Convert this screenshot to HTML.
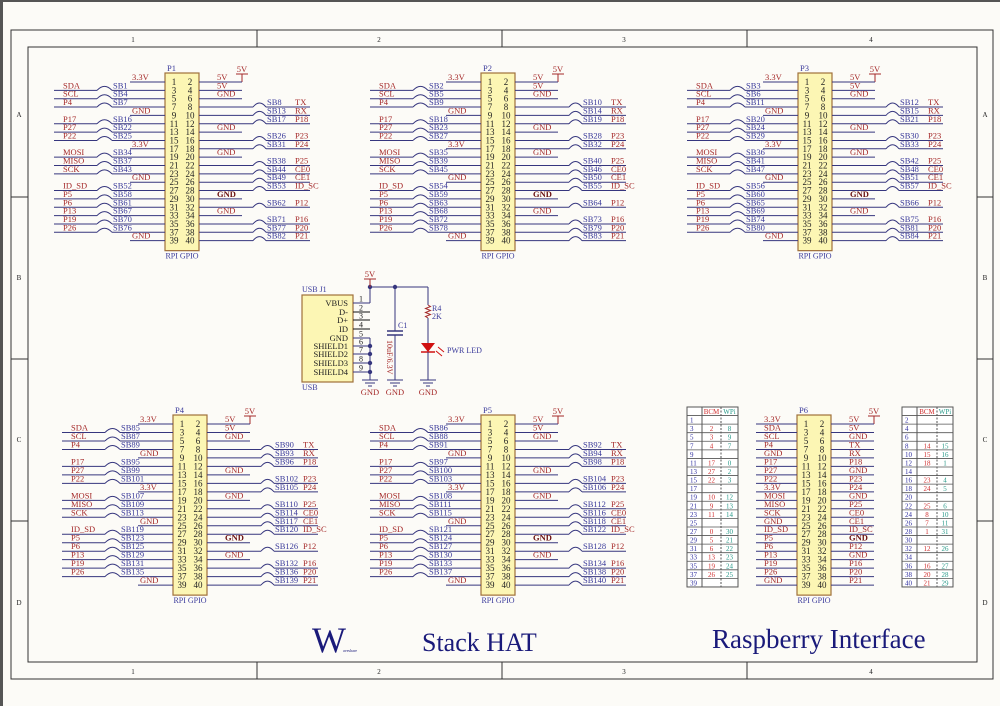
<!DOCTYPE html>
<html><head><meta charset="utf-8"><style>
html,body{margin:0;padding:0;background:#fcfbf7;}
svg{display:block;font-family:"Liberation Serif",serif;}
</style></head><body>
<svg id="s" width="1000" height="706" viewBox="0 0 1000 706" xmlns="http://www.w3.org/2000/svg"></svg>
<script>
var s='';
var RED='#a52a2a',BLUE='#3b3b9b',LN='#36367e',BK='#222';
function t(x,y,str,c,sz,anc,extra){s+='<text x="'+x+'" y="'+y+'" fill="'+c+'" font-size="'+(sz||8.5)+'"'+(anc?' text-anchor="'+anc+'"':'')+(extra||'')+'>'+str+'</text>';}
function l(x1,y1,x2,y2,c,w,extra){s+='<line x1="'+x1+'" y1="'+y1+'" x2="'+x2+'" y2="'+y2+'" stroke="'+(c||LN)+'" stroke-width="'+(w||1)+'"'+(extra||'')+'/>';}
function arc(x1,x2,y){s+='<path d="M'+x1+' '+y+' Q'+((x1+x2)/2)+' '+(y-8)+' '+x2+' '+y+'" fill="none" stroke="'+LN+'" stroke-width="1"/>';}
// frame
s+='<rect x="0" y="0" width="1000" height="2" fill="#555"/><rect x="0" y="0" width="3" height="706" fill="#555"/>';
s+='<rect x="11" y="30" width="982" height="649" fill="none" stroke="#333" stroke-width="1"/>';
s+='<rect x="28" y="47" width="949" height="615" fill="none" stroke="#333" stroke-width="1"/>';
[257,502,747].forEach(function(x){l(x,30,x,47,'#333');l(x,662,x,679,'#333');});
[197,359,521].forEach(function(y){l(11,y,28,y,'#333');l(977,y,993,y,'#333');});
[[133,'1'],[379,'2'],[624,'3'],[871,'4']].forEach(function(a){t(a[0],42,a[1],BK,7,'middle');t(a[0],674,a[1],BK,7,'middle');});
[[117,'A'],[280,'B'],[442,'C'],[605,'D']].forEach(function(a){t(19,a[0],a[1],BK,7,'middle');t(985,a[0],a[1],BK,7,'middle');});
var LN_=['3.3V','SDA','SCL','P4','GND','P17','P27','P22','3.3V','MOSI','MISO','SCK','GND','ID_SD','P5','P6','P13','P19','P26','GND'];
var RN_=['5V','5V','GND','TX','RX','P18','GND','P23','P24','GND','P25','CE0','CE1','ID_SC','GND','P12','GND','P16','P20','P21'];
function pw(n){return n=='3.3V'||n=='GND'||n=='5V';}
function hdr(bx,py,dy,name,lsb,rsb){
  s+='<rect x="'+bx+'" y="'+(py-9)+'" width="34" height="'+(dy*19+19)+'" fill="#fcf6b4" stroke="#a0703a" stroke-width="1.2"/>';
  t(bx+2,py-11,name,BLUE,8.5);
  t(bx+17,py+dy*19+18,'RPI GPIO',BLUE,8,'middle');
  // 5V symbol
  l(bx+77,py,bx+77,py-8,RED);l(bx+71,py-8,bx+83,py-8,RED);t(bx+77,py-10,'5V',RED,8.5,'middle');
  var li=0,ri=0;
  for(var i=0;i<20;i++){
    var y=py+dy*i;
    t(bx+9,y+3,String(2*i+1),BK,9,'middle');t(bx+25,y+3,String(2*i+2),BK,9,'middle');
    var n=LN_[i];
    if(!lsb){l(bx-41,y,bx,y);t(bx-33,y-2,n,RED);}
    else if(pw(n)){l(bx-35,y,bx,y);t(bx-33,y-2,n,RED);}
    else{l(bx-111,y,bx-68,y);t(bx-102,y-2,n,RED);arc(bx-68,bx-53,y);l(bx-53,y,bx,y);t(bx-52,y-2,'SB'+lsb[li++],BLUE);}
    var m=RN_[i];
    var bold=(i==14)?' font-weight="bold"':'';
    if(!rsb||pw(m)){l(bx+34,y,bx+77,y);t(bx+(rsb?52:52),y-2,m,(i==14?'#6b1010':RED),8.5,null,bold);}
    else{l(bx+34,y,bx+88,y);arc(bx+88,bx+101,y);l(bx+101,y,bx+145,y);t(bx+102,y-2,'SB'+rsb[ri++],BLUE);t(bx+130,y-2,m,RED);}
  }
}
hdr(165,82,8.35,'P1',[1,4,7,16,22,25,34,37,43,52,58,61,67,70,76],[8,13,17,26,31,38,44,49,53,62,71,77,82]);
hdr(481,82,8.35,'P2',[2,5,9,18,23,27,35,39,45,54,59,63,68,72,78],[10,14,19,28,32,40,46,50,55,64,73,79,83]);
hdr(798,82,8.35,'P3',[3,6,11,20,24,29,36,41,47,56,60,65,69,74,80],[12,15,21,30,33,42,48,51,57,66,75,81,84]);
hdr(173,424,8.48,'P4',[85,87,89,95,99,101,107,109,113,119,123,125,129,131,135],[90,93,96,102,105,110,114,117,120,126,132,136,139]);
hdr(481,424,8.48,'P5',[86,88,91,97,100,103,108,111,115,121,124,127,130,133,137],[92,94,98,104,106,112,116,118,122,128,134,138,140]);
hdr(797,424,8.48,'P6',null,null);
// tables
function tbl(x0,xa,xb,x1,rows){
  var y0=407,rh=8.57;
  s+='<rect x="'+x0+'" y="'+y0+'" width="'+(x1-x0)+'" height="'+(rh*21)+'" fill="#fff" stroke="#555" stroke-width="1"/>';
  l(xa,y0,xa,y0+rh*21,'#555');l(xb,y0,xb,y0+rh*21,'#555',1,' stroke-dasharray="2,1.5"');
  for(var k=1;k<21;k++)l(x0,y0+rh*k,x1,y0+rh*k,'#555',0.8);
  t((xa+xb)/2,y0+7,'BCM','#d03030',7,'middle');t((xb+x1)/2,y0+7,'WPi','#2a9a8a',7,'middle');
  rows.forEach(function(r,k){var y=y0+rh*(k+1)+7;t(x0+3,y,r[0],'#3030a0',7);if(r[1])t((xa+xb)/2,y,r[1],'#d03030',7,'middle');if(r[2])t((xb+x1)/2,y,r[2],'#2a9a8a',7,'middle');});
}
tbl(687,702,721,738,[['1'],['3','2','8'],['5','3','9'],['7','4','7'],['9'],['11','17','0'],['13','27','2'],['15','22','3'],['17'],['19','10','12'],['21','9','13'],['23','11','14'],['25'],['27','0','30'],['29','5','21'],['31','6','22'],['33','13','23'],['35','19','24'],['37','26','25'],['39']]);
tbl(902,917,937,953,[['2'],['4'],['6'],['8','14','15'],['10','15','16'],['12','18','1'],['14'],['16','23','4'],['18','24','5'],['20'],['22','25','6'],['24','8','10'],['26','7','11'],['28','1','31'],['30'],['32','12','26'],['34'],['36','16','27'],['38','20','28'],['40','21','29']]);
// USB section
s+='<rect x="302" y="295" width="51" height="87" fill="#fcf6b4" stroke="#a0703a" stroke-width="1.2"/>';
t(302,292,'USB J1',BLUE,8);t(302,390,'USB',BLUE,8);
var ul=['VBUS','D-','D+','ID','GND','SHIELD1','SHIELD2','SHIELD3','SHIELD4'];
var ly=[303,312,320,329,338,346,354,363,372];
ul.forEach(function(n,k){t(348,ly[k]+3,n,BK,8.5,'end');l(353,ly[k],370,ly[k],k>=1&&k<=3?'#111':LN);t(361,ly[k]-1.5,String(k+1),BK,8,'middle');});
l(370,303,370,287);l(370,287,428,287);l(370,338,370,380);
function dot(x,y){s+='<circle cx="'+x+'" cy="'+y+'" r="2.2" fill="'+LN+'"/>';}
dot(370,287);dot(395,287);[346,354,363,372].forEach(function(y){dot(370,y);});
// 5V at usb
l(370,287,370,279,RED);l(364,279,376,279,RED);t(370,277,'5V',RED,8.5,'middle');
function gnd(x,y){l(x,y,x+0,y);l(x-8,y,x+8,y,LN);l(x-5,y+3,x+5,y+3,LN);l(x-2,y+6,x+2,y+6,LN);t(x,y+15,'GND',RED,8.5,'middle');}
gnd(370,380);gnd(395,380);gnd(428,380);
// C1
l(395,287,395,331);l(387,331,403,331,LN,1.5);l(387,335,403,335,LN,1.5);l(395,335,395,380);
t(398,328,'C1',BLUE,8);
s+='<text x="0" y="0" fill="'+RED+'" font-size="8" transform="translate(387,340) rotate(90)">10uF/6.3V</text>';
// R4
l(428,287,428,305);
s+='<path d="M428 305 l2.5 1.5 l-5 2 l5 2 l-5 2 l5 2 l-5 2 l2.5 1.5" fill="none" stroke="'+RED+'" stroke-width="1"/>';
l(428,318,428,343);t(432,311,'R4',BLUE,8);t(432,319,'2K',BLUE,8);
s+='<path d="M421 343 L435 343 L428 352 Z" fill="#d01010"/>';l(421,352,435,352,'#d01010',1.5);
l(438,347,444,352,'#d01010');l(436,351,442,356,'#d01010');
l(428,352,428,380);
t(447,353,'PWR LED',BLUE,8);
// titles
t(312,652,'W','#1a1a7a',36);t(343,652,'aveshare','#1a1a7a',4);
t(422,651,'Stack HAT','#1a1a7a',26);
t(712,648,'Raspberry Interface','#1a1a7a',27);
document.getElementById('s').innerHTML=s;
</script>
</body></html>
